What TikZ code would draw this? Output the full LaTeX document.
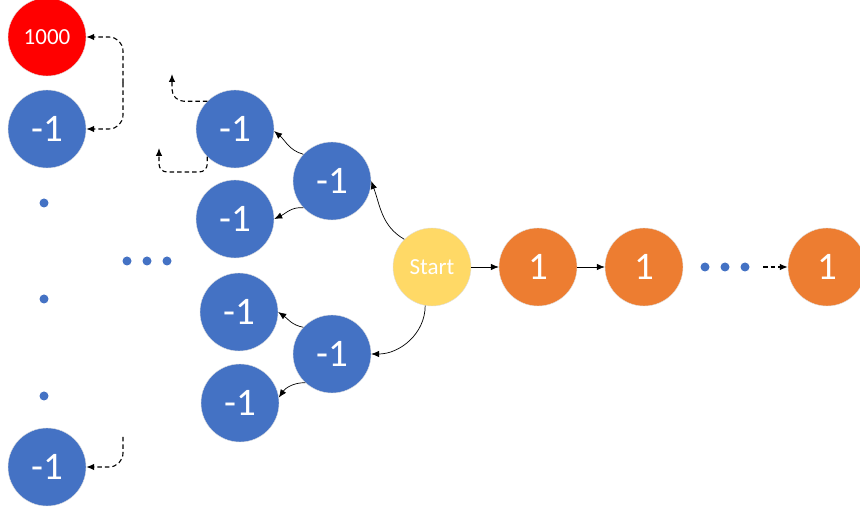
\documentclass[tikz,border=0pt]{standalone}
\usepackage{fontspec}
\setmainfont{Carlito}
\usetikzlibrary{arrows.meta}
\definecolor{rwd}{HTML}{FF0000}
\definecolor{neg}{HTML}{4472C4}
\definecolor{st}{HTML}{FFD966}
\definecolor{pos}{HTML}{ED7D31}

\begin{document}
\begin{tikzpicture}[x=1pt,y=1pt,
  arr/.style={-{Latex[length=8pt,width=6.5pt]},line width=0.7pt,black},
  darr/.style={arr,line width=1.1pt,dash pattern=on 4.5pt off 3pt}]
\useasboundingbox (0,0) rectangle (860,509);
\begin{scope}[every node/.style={circle,draw=gray!25,thin,minimum size=78pt,inner sep=0pt,text=white,font=\fontsize{39}{39}\selectfont}]
\node (r) [fill=rwd,font=\fontsize{23}{23}\selectfont] at (47,472) {1000};
\node (a1) [fill=neg] at (47,380) {-1};
\node (a2) [fill=neg] at (47,42) {-1};

\node (b1) [fill=neg] at (235,380) {-1};
\node (b2) [fill=neg] at (235,290) {-1};
\node (b3) [fill=neg] at (239,197) {-1};
\node (b4) [fill=neg] at (240,106) {-1};

\node (c1) [fill=neg] at (332,328) {-1};
\node (c2) [fill=neg] at (332,155) {-1};

\node (s) [fill=st,font=\fontsize{23}{23}\selectfont] at (432,242) {Start};
\node (o1) [fill=pos] at (538,242) {1};
\node (o2) [fill=pos] at (644,242) {1};
\node (o3) [fill=pos] at (827,242) {1};
\end{scope}

% dots
\foreach \y in {306,210,113} \fill[neg] (44,\y) circle (4.5pt);
\foreach \x in {127,147,167} \fill[neg] (\x,248) circle (4.5pt);
\foreach \x in {705,725,745} \fill[neg] (\x,242) circle (4.5pt);

% solid arrows
\draw[arr] (s.135) to[out=150,in=-70] (c1.east);
\draw[arr] (s.-100) to[out=-90,in=0] (c2.east);
\draw[arr] (c1.137) to[out=165,in=-40] (b1.-3);
\draw[arr] (c1.223) to[out=175,in=25] (b2.east);
\draw[arr] (c2.137) to[out=170,in=-35] (b3.east);
\draw[arr] (c2.227) to[out=180,in=55] (b4.8);
\draw[arr] (s) -- (o1);
\draw[arr] (o1) -- (o2);

% dashed arrows
\coordinate (k1) at (123,426);
\coordinate (k2) at (123,72);
\coordinate (e1) at (172,435);
\coordinate (e2) at (159,361);
\coordinate (k3) at (763,242);
\draw[darr,rounded corners=14pt] (k1) |- (r.east);
\draw[darr,rounded corners=14pt] (k1) |- (a1.east);
\draw[darr,rounded corners=14pt] (k2) |- (a2.east);
\draw[darr,rounded corners=12pt] (b1.135) -| (e1);
\draw[darr,rounded corners=8pt] (b1.225) |- ([yshift=-24pt]e2) -- (e2);
\draw[darr] (k3) -- (o3);
\end{tikzpicture}
\end{document}
